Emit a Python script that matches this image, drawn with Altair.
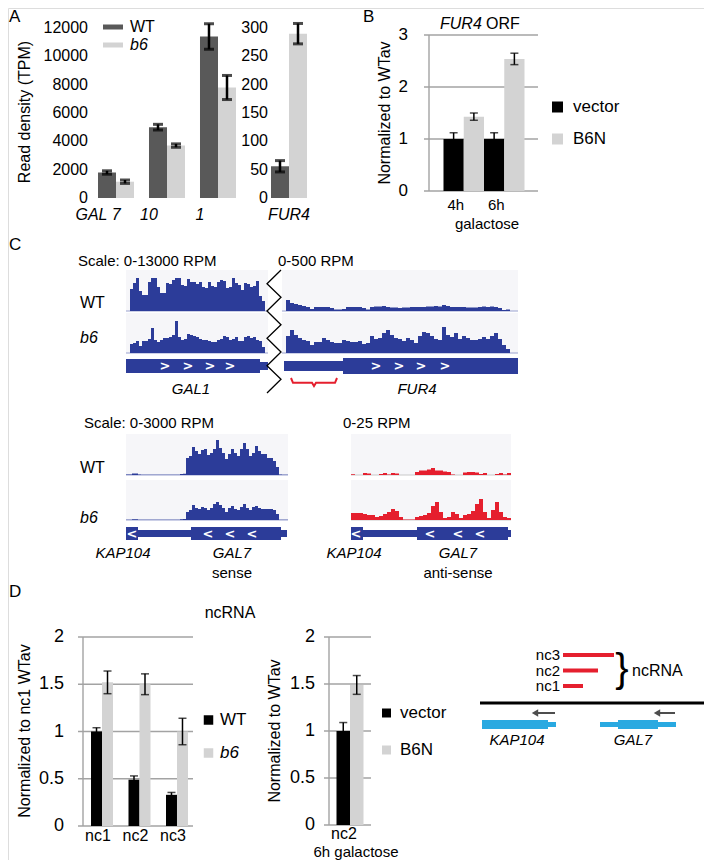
import altair as alt
import pandas as pd

# ======================= DATA =======================
# Panel A : read density (TPM)
A_GENES = ["GAL 7", "10", "1"]
A_STRAINS = ["WT", "b6"]
A_WT = [1800, 5000, 11400]
A_WT_ERR = [120, 200, 900]
A_B6 = [1150, 3700, 7800]
A_B6_ERR = [120, 120, 850]
A_FUR4 = ["FUR4"]
A_FUR4_WT = [56]
A_FUR4_WT_ERR = [10]
A_FUR4_B6 = [290]
A_FUR4_B6_ERR = [18]
A_TICKS_LEFT = [0, 2000, 4000, 6000, 8000, 10000, 12000]
A_TICKS_RIGHT = [0, 50, 100, 150, 200, 250, 300]

# Panel B : FUR4 ORF, normalized to WTav
B_TIMES = ["4h", "6h"]
B_GROUPS = ["vector", "B6N"]
B_VECTOR = [1.0, 1.0]
B_VECTOR_ERR = [0.12, 0.12]
B_B6N = [1.43, 2.54]
B_B6N_ERR = [0.07, 0.11]
B_TICKS = [0, 1, 2, 3]

# Panel D : ncRNA
D_NC = ["nc1", "nc2", "nc3"]
D_STRAINS = ["WT", "b6"]
D_WT = [1.0, 0.49, 0.33]
D_WT_ERR = [0.04, 0.04, 0.025]
D_B6 = [1.52, 1.50, 1.00]
D_B6_ERR = [0.12, 0.11, 0.14]
D2_CAT = ["nc2"]
D2_GROUPS = ["vector", "B6N"]
D2_VECTOR = [1.0]
D2_VECTOR_ERR = [0.09]
D2_B6N = [1.49]
D2_B6N_ERR = [0.10]
D_TICKS = [0, 0.5, 1, 1.5, 2]

# Panel C : coverage tracks (RPM per bin)
GAL1_WT = [7150, 9100, 10700, 6500, 5200, 5200, 9400, 10700, 10700, 7800, 5850, 5850, 9100, 8800,
           10100, 10700, 10700, 8450, 8100, 10400, 9400, 9400, 8800, 9400, 7800, 7500, 9400, 8100,
           7800, 9400, 10100, 9750, 7500, 7800, 10700, 9100, 8450, 6800, 9100, 8800, 7800, 8100,
           9750, 4900, 3250]
GAL1_B6 = [2900, 3250, 3900, 2300, 3900, 3900, 4550, 8100, 4200, 3600, 4200, 4900, 4900, 5200,
           5850, 10400, 5200, 4200, 4550, 6200, 5850, 5500, 5200, 4550, 4200, 4200, 3900, 3600,
           3600, 4200, 4550, 5500, 5200, 4200, 4550, 5200, 3900, 3900, 5200, 5500, 4900, 5200,
           4200, 3900, 1950]
FUR4_WT = [138, 100, 88, 75, 62, 50, 25, 50, 50, 50, 50, 38, 19, 19, 25, 50, 50, 50, 50, 38,
           19, 50, 56, 56, 62, 50, 44, 44, 38, 44, 44, 50, 50, 50, 50, 56, 56, 62, 56, 75,
           62, 50, 50, 50, 50, 44, 44, 44, 50, 56, 50, 56, 50, 38, 12, 19]
FUR4_B6 = [212, 288, 225, 188, 162, 150, 100, 138, 138, 188, 162, 138, 125, 125, 162, 150, 138,
           138, 150, 112, 125, 212, 175, 188, 250, 288, 225, 188, 175, 150, 188, 162, 125, 212,
           262, 250, 212, 175, 162, 325, 225, 200, 250, 175, 212, 188, 162, 162, 175, 200, 175,
           212, 250, 175, 100, 50]
GAL7_WT = [40, 40, 110, 110, 40, 20, 20, 20, 20, 20, 20, 20, 20, 20, 20, 20, 20, 20, 75, 90,
           1275, 1425, 2100, 1800, 1575, 1875, 1950, 1500, 1650, 1950, 2625, 2025, 1650, 1200,
           1575, 1950, 1650, 1425, 1950, 2400, 1950, 1425, 1650, 2175, 1800, 1575, 1575, 1275,
           1275, 1050, 600, 40, 20, 20]
GAL7_B6 = [20, 20, 60, 60, 20, 20, 20, 20, 20, 20, 20, 20, 20, 20, 20, 20, 20, 20, 60, 75,
           600, 750, 1125, 900, 825, 975, 900, 750, 900, 1200, 1350, 1125, 900, 600, 900, 1050,
           825, 750, 975, 1200, 900, 750, 975, 1050, 900, 825, 825, 825, 825, 750, 450, 20, 20, 20]
AS_WT = [0.5, 0, 0, 1.25, 0.94, 0, 0, 0.62, 1.25, 0.31, 1.25, 0.94, 0, 0, 0, 0, 1.9, 2.8, 2.8,
         3.4, 4.4, 2.8, 2.8, 2.2, 1.9, 0.31, 0, 0, 1.6, 1.9, 1.9, 1.6, 0.62, 1.25, 0, 0, 0.62,
         1.25, 0.31, 1.25]
AS_B6 = [4.4, 4.4, 4.4, 3.8, 3.1, 3.1, 1.9, 2.5, 3.8, 5.0, 6.9, 5.6, 1.9, 0.3, 0.3, 0.3, 1.9,
         2.5, 3.1, 4.4, 8.8, 11.2, 5.0, 1.25, 1.9, 5.0, 3.8, 1.25, 3.1, 3.8, 5.6, 10.0, 13.1, 5.0,
         1.25, 6.2, 11.2, 5.0, 1.9, 1.25]

# gene models (region units)
GAL1_FEAT_S = [0, 134]
GAL1_FEAT_E = [134, 142]
GAL1_FEAT_K = ["thick", "thin"]
GAL1_ARROWS = [39, 62, 84, 104]
FUR4_FEAT_S = [2, 61]
FUR4_FEAT_E = [61, 236]
FUR4_FEAT_K = ["thin", "thick"]
FUR4_ARROWS = [94, 117, 139, 163]
GAL7_FEAT_S = [0, 12, 65, 155]
GAL7_FEAT_E = [12, 65, 155, 161]
GAL7_FEAT_K = ["thick", "thin", "thick", "thin"]
GAL7_ARROWS = [6, 82, 104, 126]
AS_FEAT_S = [0, 12, 66, 157]
AS_FEAT_E = [12, 66, 157, 160]
AS_FEAT_K = ["thick", "thin", "thick", "thin"]
AS_ARROWS = [5, 79, 107, 129]

# schematic in D (units along the locus)
NC_NAMES = ["nc3", "nc2", "nc1"]
NC_START = [83, 83, 83]
NC_END = [134, 118, 103]
DG_NAMES = ["KAP104", "GAL7"]
DG_CENTER = [37, 153]
DG_S = [2, 68, 120, 138, 178]
DG_E = [68, 76, 138, 178, 196]
DG_K = ["thick", "thin", "thin", "thick", "thin"]
ARROW_FROM = [75, 195]
ARROW_TO = [55, 177]

# ======================= STYLE / LAYOUT =======================
FONT = "Liberation Sans"
W, H = 696, 852
GRID = "#a3a3a3"
TRACK_BLUE = "#2c3c99"
TRACK_RED = "#e51f2e"
CYAN = "#29a9e1"
ONE = pd.DataFrame({"k": [0]})


def X(v):
    return v - 8


def Y(v):
    return v - 8


def label(s, x, y, size=16, align="left", style="normal", angle=0, color="black", weight="normal"):
    return alt.Chart(ONE).mark_text(
        text=s, align=align, baseline="middle", fontSize=size, fontStyle=style,
        angle=angle, color=color, font=FONT, fontWeight=weight
    ).encode(x=alt.value(X(x)), y=alt.value(Y(y)))


def grouped_df(cats, groups, vals, errs):
    rows = []
    for g, vs, es in zip(groups, vals, errs):
        for c, v, e in zip(cats, vs, es):
            rows.append({"cat": c, "grp": g, "v": v, "lo": v - e, "hi": v + e})
    return pd.DataFrame(rows)


def bar_panel(df, cats, groups, colors, xr, p_in, p_out, ydom, yr, legend, ylab, xlab,
              grid=None, domain_x=None, err_w=1.5, cap=8, cap_t=1.5):
    xs = alt.Scale(domain=cats, range=[X(xr[0]), X(xr[1])], paddingInner=p_in, paddingOuter=p_out)
    ys = alt.Scale(domain=ydom, range=[Y(yr[0]), Y(yr[1])], nice=False, zero=False)
    xo = alt.XOffset("grp:N", sort=groups, scale=alt.Scale(domain=groups, paddingInner=0, paddingOuter=0))
    layers = []
    if grid is not None:
        ticks, gx0, gx1 = grid
        layers.append(alt.Chart(pd.DataFrame({"t": ticks})).mark_rule(color=GRID, strokeWidth=1.4).encode(
            y=alt.Y("t:Q", scale=ys, axis=None), x=alt.value(X(gx0)), x2=alt.value(X(gx1))))
    if domain_x is not None:
        layers.append(alt.Chart(pd.DataFrame({"a": [ydom[0]], "b": [ydom[1]]})).mark_rule(
            color=GRID, strokeWidth=1.4).encode(
            x=alt.value(X(domain_x)), y=alt.Y("a:Q", scale=ys, axis=None), y2="b:Q"))
    base = alt.Chart(df)
    layers.append(base.mark_bar().encode(
        x=alt.X("cat:N", sort=cats, scale=xs, axis=None),
        xOffset=xo,
        y=alt.Y("v:Q", scale=ys, axis=None),
        color=alt.Color("grp:N", sort=groups, scale=alt.Scale(domain=groups, range=colors), legend=legend)))
    layers.append(base.mark_rule(color="black", strokeWidth=err_w).encode(
        x=alt.X("cat:N", sort=cats, scale=xs, axis=None), xOffset=xo,
        y=alt.Y("lo:Q", scale=ys, axis=None), y2="hi:Q"))
    layers.append(base.transform_fold(["lo", "hi"], as_=["end", "capv"]).mark_tick(
        color="black", size=cap, thickness=cap_t).encode(
        x=alt.X("cat:N", sort=cats, scale=xs, axis=None), xOffset=xo,
        y=alt.Y("capv:Q", scale=ys, axis=None)))
    # tick labels (drawn through the same scales)
    ticks, lx, lsize, fmt = ylab
    layers.append(alt.Chart(pd.DataFrame({"t": ticks})).mark_text(
        align="right", baseline="middle", fontSize=lsize, font=FONT, color="black").encode(
        y=alt.Y("t:Q", scale=ys, axis=None), x=alt.value(X(lx)), text=alt.Text("t:Q", format=fmt)))
    ly, dx, xsize, style = xlab
    layers.append(alt.Chart(pd.DataFrame({"cat": cats})).mark_text(
        align="center", baseline="middle", dx=dx, fontSize=xsize, fontStyle=style, font=FONT,
        color="black").encode(
        x=alt.X("cat:N", sort=cats, scale=xs, axis=None), y=alt.value(Y(ly)), text="cat:N"))
    return alt.layer(*layers)


def legend(lx, ly, size, sym, row_pad, lab_off, italic_b6=False, sym_type="square"):
    kw = dict(orient="none", legendX=X(lx), legendY=Y(ly), title=None, direction="vertical",
              symbolType=sym_type, symbolSize=sym, symbolStrokeWidth=0, symbolOpacity=1,
              labelFont=FONT, labelFontSize=size, labelColor="black", labelOffset=lab_off,
              rowPadding=row_pad, padding=0)
    if italic_b6:
        kw["labelFontStyle"] = {"expr": "datum.label == 'b6' ? 'italic' : 'normal'"}
    return alt.Legend(**kw)


def region_scale(dom_max, x0, x1):
    return alt.Scale(domain=[0, dom_max], range=[X(x0), X(x1)], nice=False, zero=False)


def track(vals, start, step, xsc, ymax, base_y, color, height=40):
    pos = [start + i * step for i in range(len(vals))] + [start + len(vals) * step]
    v = list(vals) + [vals[-1]]
    df = pd.DataFrame({"pos": pos, "v": v})
    return alt.Chart(df).mark_area(interpolate="step-after", color=color).encode(
        x=alt.X("pos:Q", scale=xsc, axis=None),
        y=alt.Y("v:Q", scale=alt.Scale(domain=[0, ymax], range=[Y(base_y), Y(base_y - height)],
                                       nice=False, zero=False), axis=None))


def track_bg(x0, x1, y0, y1, line_color):
    bg = alt.Chart(ONE).mark_rect(color="#f6f6f9").encode(
        x=alt.value(X(x0)), x2=alt.value(X(x1)), y=alt.value(Y(y0)), y2=alt.value(Y(y1)))
    ln = alt.Chart(ONE).mark_rule(color=line_color, strokeWidth=1).encode(
        x=alt.value(X(x0)), x2=alt.value(X(x1)), y=alt.value(Y(y1)))
    return [bg, ln]


def gene_model(starts, ends, kinds, arrows, char, xsc, thick, thin, color):
    df = pd.DataFrame({"s": starts, "e": ends, "kind": kinds})
    out = []
    for kind, (y0, y1) in (("thin", thin), ("thick", thick)):
        out.append(alt.Chart(df).transform_filter(f"datum.kind == '{kind}'").mark_rect(color=color).encode(
            x=alt.X("s:Q", scale=xsc, axis=None), x2="e:Q", y=alt.value(Y(y0)), y2=alt.value(Y(y1))))
    cy = (thick[0] + thick[1]) / 2
    out.append(alt.Chart(pd.DataFrame({"p": arrows})).mark_text(
        text=char, color="white", fontSize=13, fontWeight="bold", font="DejaVu Sans",
        align="center", baseline="middle").encode(
        x=alt.X("p:Q", scale=xsc, axis=None), y=alt.value(Y(cy))))
    return out


layers = []

# ---------------- Panel A ----------------
dfA = grouped_df(A_GENES, A_STRAINS, [A_WT, A_B6], [A_WT_ERR, A_B6_ERR])
dfA2 = grouped_df(A_FUR4, A_STRAINS, [A_FUR4_WT, A_FUR4_B6], [A_FUR4_WT_ERR, A_FUR4_B6_ERR])
A_COLORS = ["#595959", "#d3d3d3"]
layers.append(bar_panel(
    dfA, A_GENES, A_STRAINS, A_COLORS, (90.5, 243.5), 0.294, 0.147, [0, 12000], (198, 28),
    legend(103, 17, 16, 400, -4, 7, italic_b6=True, sym_type="M-1,-0.25H1V0.25H-1Z"),
    (A_TICKS_LEFT, 88, 16, "d"), (215, -18, 16, "italic"),
    err_w=2.5, cap=10, cap_t=3))
layers.append(bar_panel(
    dfA2, A_FUR4, A_STRAINS, A_COLORS, (263.5, 314.5), 0.294, 0.147, [0, 300], (198, 28),
    None, (A_TICKS_RIGHT, 268, 16, "d"), (215, 0, 16, "italic"),
    err_w=2.5, cap=10, cap_t=3))
layers += [
    label("A", 9, 17, 17),
    label("Read density (TPM)", 25, 112, 16, align="center", angle=270),
]

# ---------------- Panel B ----------------
dfB = grouped_df(B_TIMES, B_GROUPS, [B_VECTOR, B_B6N], [B_VECTOR_ERR, B_B6N_ERR])
BD_COLORS = ["#000000", "#d3d3d3"]
layers.append(bar_panel(
    dfB, B_TIMES, B_GROUPS, BD_COLORS, (430, 538), 0.0, 0.333, [0, 3], (191, 35),
    legend(549, 98.5, 17, 121, 14, 7),
    (B_TICKS, 408, 17, "~g"), (205, -8, 15, "normal"),
    grid=(B_TICKS, 424, 538), domain_x=429))
layers += [
    label("B", 363, 17, 17),
    label("FUR4", 440, 24, 16, style="italic"),
    label("ORF", 486, 24, 16),
    label("Normalized to WTav", 385, 113, 16, align="center", angle=270),
    label("galactose", 487, 224, 15, align="center"),
]

# ---------------- Panel C ----------------
layers.append(label("C", 9, 245, 17))
# top : GAL1 | FUR4
sc_gal1 = region_scale(142, 126, 268)
sc_fur4 = region_scale(236, 282, 518)
layers += track_bg(126, 268, 270, 311, "#9aa2cf") + track_bg(126, 268, 313, 353, "#9aa2cf")
layers += track_bg(282, 518, 270, 311, "#9aa2cf") + track_bg(282, 518, 313, 353, "#9aa2cf")
layers.append(track(GAL1_WT, 4, 3, sc_gal1, 13000, 311, TRACK_BLUE))
layers.append(track(GAL1_B6, 4, 3, sc_gal1, 13000, 353, TRACK_BLUE))
layers.append(track(FUR4_WT, 4, 4, sc_fur4, 500, 311, TRACK_BLUE))
layers.append(track(FUR4_B6, 4, 4, sc_fur4, 500, 353, TRACK_BLUE))
layers += gene_model(GAL1_FEAT_S, GAL1_FEAT_E, GAL1_FEAT_K, GAL1_ARROWS, ">", sc_gal1,
                     (359, 373), (362, 370), TRACK_BLUE)
layers += gene_model(FUR4_FEAT_S, FUR4_FEAT_E, FUR4_FEAT_K, FUR4_ARROWS, ">", sc_fur4,
                     (358, 374), (361, 371), TRACK_BLUE)
# zig-zag break
zig = pd.DataFrame({"i": list(range(10)), "zx": [1, 0, 1, 0, 1, 0, 1, 0, 1, 0], "zy": list(range(10))})
layers.append(alt.Chart(zig).mark_line(color="black", strokeWidth=1.3).encode(
    x=alt.X("zx:Q", scale=alt.Scale(domain=[0, 1], range=[X(267), X(281)]), axis=None),
    y=alt.Y("zy:Q", scale=alt.Scale(domain=[0, 9], range=[Y(270), Y(393)]), axis=None),
    order="i:Q"))
# red brace below FUR4 5' region
brace = pd.DataFrame({"i": list(range(7)), "bx": [9, 11, 30, 32, 34, 53, 55],
                      "by": [0, 0.6, 0.6, 1, 0.6, 0.6, 0]})
layers.append(alt.Chart(brace).mark_line(color=TRACK_RED, strokeWidth=2).encode(
    x=alt.X("bx:Q", scale=sc_fur4, axis=None),
    y=alt.Y("by:Q", scale=alt.Scale(domain=[0, 1], range=[Y(378), Y(386)]), axis=None),
    order="i:Q"))
layers += [
    label("Scale: 0-13000 RPM", 78, 261, 15),
    label("0-500 RPM", 278, 261, 15),
    label("WT", 80, 303, 16),
    label("b6", 80, 338, 16, style="italic"),
    label("GAL1", 191, 389, 15, align="center", style="italic"),
    label("FUR4", 417, 389, 15, align="center", style="italic"),
]
# bottom : GAL7 sense | anti-sense
sc_gal7 = region_scale(162, 126, 288)
sc_as = region_scale(160, 351, 511)
layers += track_bg(126, 288, 434, 475, "#9aa2cf") + track_bg(126, 288, 480, 520, "#9aa2cf")
layers += track_bg(351, 511, 434, 475, "#c9c9c9") + track_bg(351, 511, 480, 520, "#c9c9c9")
layers.append(track(GAL7_WT, 0, 3, sc_gal7, 3000, 475, TRACK_BLUE))
layers.append(track(GAL7_B6, 0, 3, sc_gal7, 3000, 520, TRACK_BLUE))
layers.append(track(AS_WT, 0, 4, sc_as, 25, 475, TRACK_RED))
layers.append(track(AS_B6, 0, 4, sc_as, 25, 520, TRACK_RED))
layers += gene_model(GAL7_FEAT_S, GAL7_FEAT_E, GAL7_FEAT_K, GAL7_ARROWS, "<", sc_gal7,
                     (527, 540), (530, 537), TRACK_BLUE)
layers += gene_model(AS_FEAT_S, AS_FEAT_E, AS_FEAT_K, AS_ARROWS, "<", sc_as,
                     (527, 540), (530, 537), TRACK_BLUE)
layers += [
    label("Scale: 0-3000 RPM", 84, 423, 15),
    label("0-25 RPM", 343, 423, 15),
    label("WT", 80, 468, 16),
    label("b6", 80, 518, 16, style="italic"),
    label("KAP104", 123, 553, 15, align="center", style="italic"),
    label("GAL7", 232, 553, 15, align="center", style="italic"),
    label("sense", 232, 573, 15, align="center"),
    label("KAP104", 354, 553, 15, align="center", style="italic"),
    label("GAL7", 458, 553, 15, align="center", style="italic"),
    label("anti-sense", 458, 573, 15, align="center"),
]

# ---------------- Panel D ----------------
dfD = grouped_df(D_NC, D_STRAINS, [D_WT, D_B6], [D_WT_ERR, D_B6_ERR])
layers.append(bar_panel(
    dfD, D_NC, D_STRAINS, BD_COLORS, (83.25, 195.75), 0.413, 0.207, [0, 2], (826, 637),
    legend(200, 711.5, 17, 90, 15, 3, italic_b6=True),
    (D_TICKS, 64, 18, "~g"), (836, -4, 16, "normal"),
    grid=(D_TICKS, 78, 193), domain_x=83))
dfD2 = grouped_df(D2_CAT, D2_GROUPS, [D2_VECTOR, D2_B6N], [D2_VECTOR_ERR, D2_B6N_ERR])
layers.append(bar_panel(
    dfD2, D2_CAT, D2_GROUPS, BD_COLORS, (329, 371), 0.0, 0.278, [0, 2], (825, 637),
    legend(378, 704.5, 17, 81, 19, 5),
    (D_TICKS, 315, 18, "~g"), (834, -6, 16, "normal"),
    grid=(D_TICKS, 324, 371), domain_x=329))
layers += [
    label("D", 9, 592, 17),
    label("ncRNA", 230, 613, 16, align="center"),
    label("Normalized to nc1 WTav", 25, 731, 16, align="center", angle=270),
    label("Normalized to WTav", 275, 731, 16, align="center", angle=270),
    label("6h galactose", 356, 852, 15, align="center"),
]

# schematic
sc_d = alt.Scale(domain=[0, 232], range=[X(480), X(712)], nice=False, zero=False)
nc_df = pd.DataFrame({"name": NC_NAMES, "s": NC_START, "e": NC_END})
nc_y = alt.Scale(type="point", domain=NC_NAMES, range=[Y(655), Y(686)], padding=0)
layers.append(alt.Chart(nc_df).mark_rule(color=TRACK_RED, strokeWidth=4).encode(
    x=alt.X("s:Q", scale=sc_d, axis=None), x2="e:Q", y=alt.Y("name:N", scale=nc_y, axis=None)))
layers.append(alt.Chart(nc_df).mark_text(align="right", baseline="middle", dx=-3, fontSize=15,
                                         font=FONT, color="black").encode(
    x=alt.X("s:Q", scale=sc_d, axis=None), y=alt.Y("name:N", scale=nc_y, axis=None), text="name:N"))
locus = pd.DataFrame({"s": [0], "e": [232]})
layers.append(alt.Chart(locus).mark_rule(color="black", strokeWidth=3).encode(
    x=alt.X("s:Q", scale=sc_d, axis=None), x2="e:Q", y=alt.value(Y(703))))
arr = pd.DataFrame({"f": ARROW_FROM, "t": ARROW_TO})
layers.append(alt.Chart(arr).mark_rule(color="#4d4d4d", strokeWidth=2).encode(
    x=alt.X("f:Q", scale=sc_d, axis=None), x2="t:Q", y=alt.value(Y(713))))
layers.append(alt.Chart(arr).mark_point(shape="triangle-left", filled=True, color="#4d4d4d",
                                        size=55, opacity=1).encode(
    x=alt.X("t:Q", scale=sc_d, axis=None), y=alt.value(Y(713))))
dg = pd.DataFrame({"s": DG_S, "e": DG_E, "kind": DG_K})
for kind, (y0, y1) in (("thin", (722, 727)), ("thick", (720, 729))):
    layers.append(alt.Chart(dg).transform_filter(f"datum.kind == '{kind}'").mark_rect(color=CYAN).encode(
        x=alt.X("s:Q", scale=sc_d, axis=None), x2="e:Q", y=alt.value(Y(y0)), y2=alt.value(Y(y1))))
layers.append(alt.Chart(pd.DataFrame({"n": DG_NAMES, "c": DG_CENTER})).mark_text(
    align="center", baseline="middle", fontSize=15, fontStyle="italic", font=FONT, color="black").encode(
    x=alt.X("c:Q", scale=sc_d, axis=None), y=alt.value(Y(740)), text="n:N"))
layers += [
    label("}", 622, 670, 40, align="center"),
    label("ncRNA", 632, 671, 16),
]

chart = alt.layer(*layers).resolve_scale(
    x="independent", y="independent", color="independent", xOffset="independent"
).resolve_legend(color="independent").properties(
    width=W, height=H, padding=0, autosize=alt.AutoSizeParams(type="none")
).configure_view(stroke=None).configure(font=FONT)

chart.save("out.html", embed_options={"renderer": "svg", "actions": False})
